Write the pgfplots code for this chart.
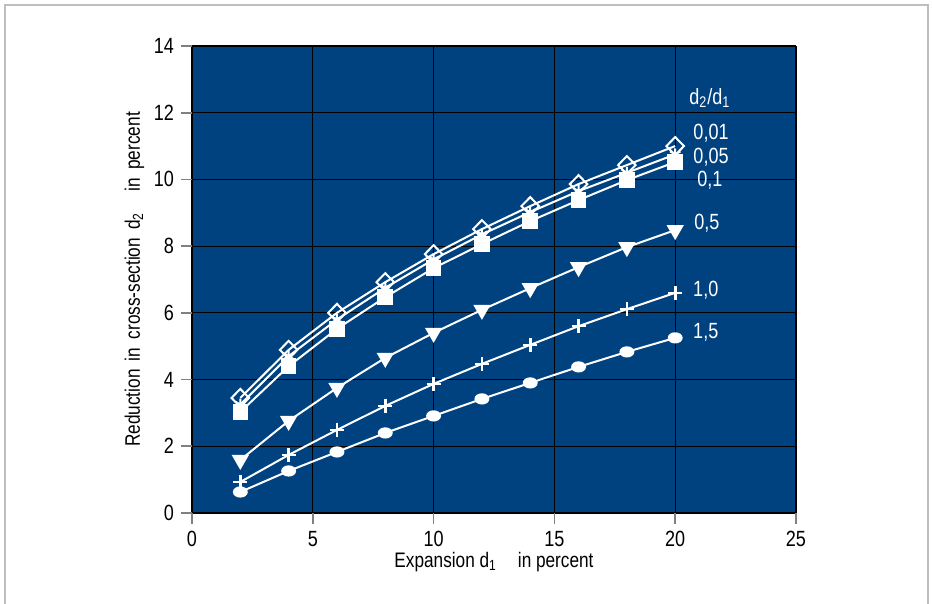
\documentclass[border=0pt]{standalone}
\usepackage{fontspec}
\setmainfont{Liberation Sans}[FakeStretch=0.82]
\usepackage{pgfplots}
\pgfplotsset{compat=1.18}
\definecolor{bg}{RGB}{0,66,128}
\definecolor{framec}{RGB}{190,190,190}
\begin{document}
\begin{tikzpicture}[x=0.5pt,y=0.5pt]
\useasboundingbox (-192,-91) rectangle (740,513);
\draw[framec, line width=1pt] (-187,-91) -- (-187,508) -- (736,508) -- (736,-91);
\begin{axis}[at={(0,0)}, anchor=south west, scale only axis,
  width=302pt, height=233.5pt,
  xmin=0, xmax=25, ymin=0, ymax=14,
  xtick={0,5,10,15,20,25}, ytick={0,2,4,6,8,10,12,14},
  xtick pos=bottom, ytick pos=left,
  axis background/.style={fill=bg},
  axis line style={draw=none},
  grid=major, major grid style={black, line width=0.6pt},
  tick align=outside, major tick length=5.5pt,
  tick style={gray, line width=0.8pt},
  /pgf/number format/assume math mode=true,
  tick label style={font=\fontsize{11}{13}\selectfont},
  xlabel={Expansion d\textsubscript{1}\quad in percent},
  ylabel={Reduction\, in\, cross-section\, d\textsubscript{2}\quad in\, percent},
  label style={font=\fontsize{10.5}{12}\selectfont},
  xlabel style={yshift=4pt},
  ylabel style={yshift=-2pt},
  every axis plot/.append style={white, line width=1pt},
  clip=false,
]
\addplot[mark=diamond, mark size=4.5pt, mark options={fill=bg, xscale=1.3}] coordinates {
(2,3.45)(4,4.89)(6,6.0)(8,6.92)(10,7.76)(12,8.51)(14,9.2)(16,9.86)(18,10.43)(20,11.0)};
\addplot[mark=asterisk, mark size=3pt] coordinates {
(2,3.25)(4,4.7)(6,5.8)(8,6.75)(10,7.6)(12,8.35)(14,9.02)(16,9.65)(18,10.2)(20,10.75)};
\addplot[mark=square*, mark size=3.4pt, mark options={fill=white}] coordinates {
(2,3.03)(4,4.4)(6,5.52)(8,6.47)(10,7.34)(12,8.06)(14,8.75)(16,9.38)(18,9.98)(20,10.52)};
\addplot[mark=triangle*, mark size=4pt, mark options={fill=white, rotate=180}] coordinates {
(2,1.59)(4,2.76)(6,3.75)(8,4.65)(10,5.4)(12,6.09)(14,6.74)(16,7.37)(18,7.97)(20,8.48)};
\addplot[mark=+, mark size=3.5pt, mark options={line width=1.3pt}] coordinates {
(2,0.93)(4,1.74)(6,2.49)(8,3.21)(10,3.87)(12,4.47)(14,5.04)(16,5.6)(18,6.11)(20,6.6)};
\addplot[mark=*, mark size=2.3pt, mark options={fill=white, xscale=1.4}] coordinates {
(2,0.63)(4,1.26)(6,1.83)(8,2.4)(10,2.91)(12,3.42)(14,3.9)(16,4.38)(18,4.83)(20,5.25)};
\begin{scope}[every node/.style={white, font=\fontsize{11}{13}\selectfont, anchor=west, inner sep=0pt}]
\node at (axis cs:20.57,12.44) {d\textsubscript{2}/d\textsubscript{1}};
\node at (axis cs:20.74,11.39) {0,01};
\node at (axis cs:20.74,10.67) {0,05};
\node at (axis cs:20.9,9.98) {0,1};
\node at (axis cs:20.78,8.69) {0,5};
\node at (axis cs:20.73,6.68) {1,0};
\node at (axis cs:20.73,5.43) {1,5};
\end{scope}
\end{axis}
\end{tikzpicture}
\end{document}
